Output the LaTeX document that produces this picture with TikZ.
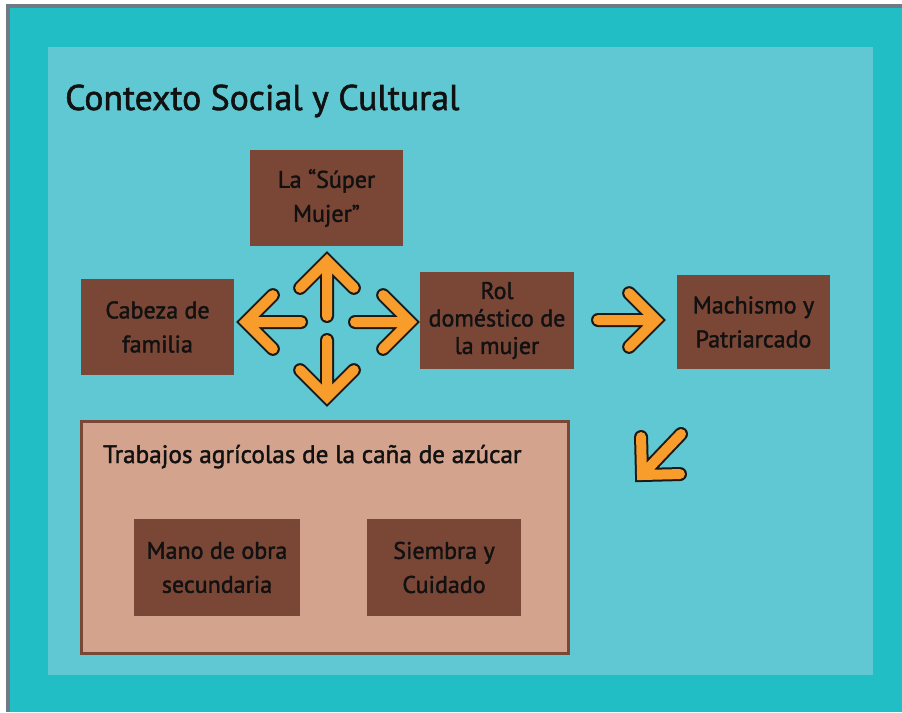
\documentclass[tikz,border=0pt]{standalone}
\usepackage{fontspec}
\setmainfont{PT Sans}[FakeBold=1.6]
\usetikzlibrary{calc}

\definecolor{marco}{HTML}{6F7B84}
\definecolor{turquesa}{HTML}{21BEC5}
\definecolor{panel}{HTML}{5FC8D2}
\definecolor{cafe}{HTML}{7A4636}
\definecolor{rosado}{HTML}{D4A38D}
\definecolor{naranja}{HTML}{F89C2C}
\definecolor{tinta}{HTML}{111111}

\tikzset{
  caja/.style={fill=cafe, text=tinta, align=center, inner sep=0pt,
    font=\fontsize{24}{34}\selectfont},
  flechaborde/.style={draw=black!90, line width=14pt, line cap=round, line join=miter},
  flechacuerpo/.style={draw=naranja, line width=10pt, line cap=round, line join=miter}
}

% fat orange arrow from #1 (tail) to #2 (tip)
\newcommand{\flecha}[2]{%
  \draw[flechaborde] (#1) -- (#2) ($(#2)!38pt!45:(#1)$) -- (#2) -- ($(#2)!38pt!-45:(#1)$);
  \draw[flechacuerpo] (#1) -- (#2) ($(#2)!38pt!45:(#1)$) -- (#2) -- ($(#2)!38pt!-45:(#1)$);
}

\begin{document}
\begin{tikzpicture}[x=1pt, y=-1pt]

        \useasboundingbox (0,0) rectangle (902,712);

        %background, frame and panel
        \fill[white] (0,0) rectangle (902,712);
        \fill[marco] (6,4) rectangle (902,712);
        \fill[turquesa] (10,7.5) rectangle (902,712);
        \fill[panel] (48,46.5) rectangle (873,675);

        %title
        \node[anchor=base west, inner sep=0pt, text=tinta, font=\fontsize{35.7}{40}\selectfont] (titulo) at (65,110) {Contexto Social y Cultural};

        %upper boxes
        \node[caja, minimum width=153pt, minimum height=96pt] (supermujer) at (326.5,198) {La “Súper\\Mujer”};
        \node[caja, minimum width=153pt, minimum height=96pt] (cabeza) at (157.5,327) {Cabeza de\\familia};
        \node[caja, minimum width=154pt, minimum height=97pt, font=\fontsize{24}{27.5}\selectfont] (rol) at (497,320.5) {Rol\\doméstico de\\la mujer};
        \node[caja, minimum width=153pt, minimum height=94pt] (machismo) at (753.5,322) {Machismo y\\Patriarcado};

        %sugar cane box
        \node[draw=cafe, line width=3pt, fill=rosado, minimum width=487pt, minimum height=232pt, inner sep=0pt] (trabajos) at (325,537.5) {};
        \node[anchor=base west, inner sep=0pt, text=tinta, font=\fontsize{25.2}{34}\selectfont] (trabajostit) at (103,463) {Trabajos agrícolas de la caña de azúcar};
        \node[caja, minimum width=166pt, minimum height=97pt] (manoobra) at (217,567.5) {Mano de obra\\secundaria};
        \node[caja, minimum width=154pt, minimum height=97pt] (siembra) at (444,567.5) {Siembra y\\Cuidado};

        %arrow ends
        \coordinate (arribaA) at (327,316);  \coordinate (arribaB) at (327,261);
        \coordinate (izqA) at (301,322);     \coordinate (izqB) at (246,322);
        \coordinate (derA) at (355,322);     \coordinate (derB) at (410,322);
        \coordinate (abajoA) at (327,340);   \coordinate (abajoB) at (327,397);
        \coordinate (machA) at (598,320);    \coordinate (machB) at (656,320);
        \coordinate (diagA) at (681,434);    \coordinate (diagB) at (642,475);

        %arrows
        \flecha{arribaA}{arribaB}
        \flecha{izqA}{izqB}
        \flecha{derA}{derB}
        \flecha{abajoA}{abajoB}
        \flecha{machA}{machB}
        \flecha{diagA}{diagB}

\end{tikzpicture}
\end{document}
